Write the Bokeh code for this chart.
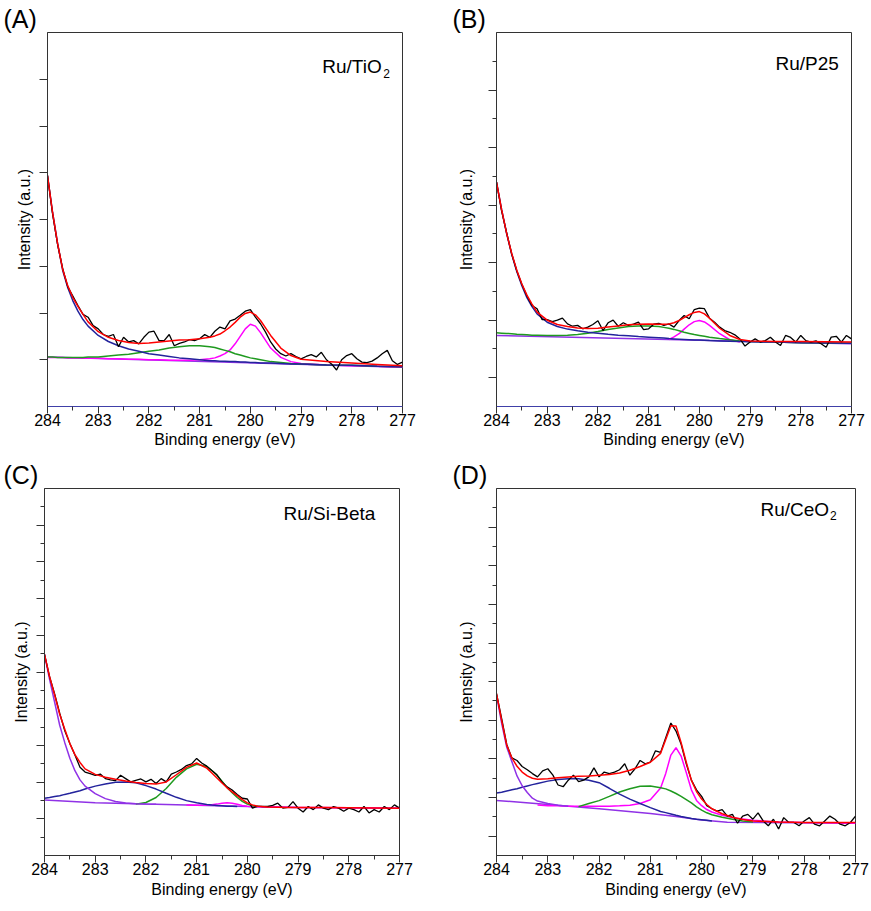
import math
from bokeh.plotting import figure
from bokeh.models import Range1d, FixedTicker, Label, CustomJSTickFormatter
from bokeh.layouts import column, row
from bokeh.embed import file_html
from bokeh.resources import INLINE

nan = float("nan")

# ---------------- energy grids (eV) ----------------
raw_energy = [284.0, 283.9, 283.8, 283.7, 283.6, 283.5, 283.4, 283.3, 283.2, 283.1,
              283.0, 282.9, 282.8, 282.7, 282.6, 282.5, 282.4, 282.3, 282.2, 282.1,
              282.0, 281.9, 281.8, 281.7, 281.6, 281.5, 281.4, 281.3, 281.2, 281.1,
              281.0, 280.9, 280.8, 280.7, 280.6, 280.5, 280.4, 280.3, 280.2, 280.1,
              280.0, 279.9, 279.8, 279.7, 279.6, 279.5, 279.4, 279.3, 279.2, 279.1,
              279.0, 278.9, 278.8, 278.7, 278.6, 278.5, 278.4, 278.3, 278.2, 278.1,
              278.0, 277.9, 277.8, 277.7, 277.6, 277.5, 277.4, 277.3, 277.2, 277.1,
              277.0]
fit_energy = [284.0, 283.9, 283.8, 283.7, 283.6, 283.5, 283.4, 283.3, 283.2, 283.0,
              282.8, 282.6, 282.4, 282.2, 282.0, 281.8, 281.6, 281.4, 281.2, 281.0,
              280.8, 280.7, 280.6, 280.5, 280.4, 280.3, 280.2, 280.1, 280.0, 279.9,
              279.8, 279.6, 279.4, 279.2, 279.0, 278.5, 278.0, 277.5, 277.0]

x_major_ticks = [277, 278, 279, 280, 281, 282, 283, 284]
x_minor_ticks = [277.5, 278.5, 279.5, 280.5, 281.5, 282.5, 283.5]

# ---------------- (A) Ru/TiO2 ----------------
A_raw = [4.94, 4.12, 3.46, 2.95, 2.56, 2.36, 2.16, 1.97, 1.91, 1.73,
         1.66, 1.54, 1.50, 1.54, 1.28, 1.48, 1.38, 1.41, 1.34, 1.48,
         1.59, 1.61, 1.41, 1.41, 1.54, 1.30, 1.35, 1.38, 1.43, 1.41,
         1.45, 1.54, 1.48, 1.61, 1.70, 1.66, 1.83, 1.87, 1.95, 2.04,
         2.07, 1.91, 1.77, 1.59, 1.38, 1.23, 1.13, 1.08, 1.13, 1.07,
         1.02, 1.07, 1.11, 1.06, 1.16, 1.00, 0.91, 0.78, 1.00, 1.09,
         1.13, 1.02, 0.95, 0.94, 0.97, 1.04, 1.13, 1.20, 0.98, 0.90,
         0.95]
A_fit = [4.94, 4.15, 3.48, 2.93, 2.58, 2.33, 2.14, 1.97, 1.81, 1.60,
         1.48, 1.41, 1.37, 1.35, 1.36, 1.38, 1.40, 1.42, 1.43, 1.45,
         1.48, 1.51, 1.55, 1.62, 1.70, 1.80, 1.91, 1.99, 2.02, 1.96,
         1.84, 1.52, 1.25, 1.09, 1.01, 0.96, 0.93, 0.90, 0.87]
A_tail = [4.94, 4.15, 3.48, 2.91, 2.54, 2.26, 2.04, 1.86, 1.72, 1.52,
          1.39, 1.30, 1.23, 1.18, 1.13, 1.10, 1.07, 1.04, 1.02, 1.00,
          0.98, 0.98, 0.97, 0.97, 0.96, 0.96, 0.95, 0.95, 0.94, 0.94,
          0.93, 0.93, 0.92, 0.91, 0.91, 0.89, 0.88, 0.86, 0.85]
A_green = [1.06, 1.06, 1.05, 1.05, 1.05, 1.05, 1.05, 1.05, 1.06, 1.06,
           1.08, 1.10, 1.12, 1.15, 1.18, 1.21, 1.25, 1.28, 1.30, 1.30,
           1.28, 1.26, 1.23, 1.20, 1.17, 1.13, 1.10, 1.07, 1.04, 1.02,
           1.00, 0.96, 0.94, 0.92, 0.91, 0.89, 0.88, 0.86, 0.85]
A_magenta = [1.05, 1.05, 1.05, 1.05, 1.04, 1.04, 1.04, 1.03, 1.03, 1.03,
             1.02, 1.02, 1.01, 1.01, 1.00, 1.00, 0.99, 0.99, 0.99, 1.00,
             1.02, 1.04, 1.08, 1.13, 1.21, 1.34, 1.50, 1.66, 1.76, 1.72,
             1.58, 1.25, 1.05, 0.96, 0.92, 0.89, 0.87, 0.86, 0.84]
A_base_energy = [284.0, 277.0]
A_base = [1.06, 0.84]

# ---------------- (B) Ru/P25 ----------------
B_raw = [7.80, 6.80, 6.04, 5.30, 4.72, 4.25, 3.84, 3.51, 3.40, 3.02,
         3.02, 2.95, 3.00, 3.07, 2.87, 2.79, 2.82, 2.70, 2.76, 2.85,
         2.98, 2.64, 2.91, 3.00, 2.79, 2.91, 2.82, 2.86, 2.93, 2.67,
         2.70, 2.86, 2.89, 2.82, 2.87, 2.76, 2.99, 3.16, 3.05, 3.37,
         3.42, 3.40, 3.07, 2.93, 2.76, 2.64, 2.58, 2.49, 2.35, 2.10,
         2.24, 2.35, 2.24, 2.29, 2.41, 2.24, 2.12, 2.47, 2.40, 2.24,
         2.47, 2.29, 2.24, 2.28, 2.18, 2.06, 2.41, 2.44, 2.24, 2.47,
         2.35]
B_fit = [7.80, 6.85, 6.02, 5.32, 4.74, 4.26, 3.87, 3.56, 3.28, 3.00,
         2.85, 2.78, 2.73, 2.71, 2.72, 2.76, 2.80, 2.84, 2.86, 2.87,
         2.86, 2.86, 2.87, 2.91, 2.99, 3.09, 3.19, 3.27, 3.30, 3.22,
         3.07, 2.72, 2.47, 2.33, 2.28, 2.26, 2.26, 2.25, 2.24]
B_tail = [7.80, 6.85, 6.01, 5.29, 4.69, 4.20, 3.78, 3.47, 3.22, 2.93,
          2.78, 2.69, 2.63, 2.58, 2.55, 2.51, 2.48, 2.46, 2.43, 2.41,
          2.39, 2.38, 2.36, 2.35, 2.34, 2.33, 2.32, 2.31, 2.31, 2.30,
          2.29, 2.28, 2.27, 2.26, 2.25, 2.24, 2.22, 2.21, 2.20]
B_green = [2.56, 2.55, 2.54, 2.53, 2.51, 2.50, 2.49, 2.48, 2.48, 2.47,
           2.47, 2.48, 2.50, 2.55, 2.61, 2.68, 2.73, 2.78, 2.80, 2.80,
           2.78, 2.75, 2.72, 2.68, 2.63, 2.58, 2.54, 2.50, 2.47, 2.44,
           2.41, 2.36, 2.32, 2.28, 2.26, 2.24, 2.22, 2.21, 2.20]
B_magenta = [nan, nan, nan, nan, nan, nan, nan, nan, nan, nan,
             nan, nan, nan, nan, nan, nan, nan, nan, nan, nan,
             nan, nan, 2.33, 2.42, 2.53, 2.69, 2.84, 2.95, 2.99, 2.94,
             2.82, 2.53, 2.32, 2.24, nan, nan, nan, nan, nan]
B_base_energy = [284.0, 277.0]
B_base = [2.47, 2.18]

# ---------------- (C) Ru/Si-Beta ----------------
C_raw = [10.96, 9.75, 8.80, 7.75, 6.80, 6.10, 5.48, 4.81, 4.55, 4.46,
         4.37, 4.44, 4.19, 4.12, 4.08, 4.37, 4.19, 4.01, 4.10, 4.17,
         4.01, 4.15, 3.92, 4.19, 4.01, 4.44, 4.55, 4.69, 4.90, 4.99,
         5.29, 5.04, 4.87, 4.63, 4.40, 4.01, 3.74, 3.57, 3.33, 3.12,
         3.08, 2.58, 2.69, 2.67, 2.67, 2.73, 2.85, 2.58, 2.62, 2.94,
         2.58, 2.37, 2.67, 2.50, 2.76, 2.58, 2.50, 2.67, 2.58, 2.41,
         2.58, 2.50, 2.37, 2.67, 2.32, 2.50, 2.37, 2.67, 2.50, 2.76,
         2.58]
C_fit = [10.96, 9.75, 8.75, 7.70, 6.88, 6.10, 5.50, 5.07, 4.72, 4.42,
         4.26, 4.15, 4.06, 3.98, 3.92, 3.89, 4.01, 4.40, 4.80, 5.04,
         4.76, 4.50, 4.22, 3.95, 3.69, 3.47, 3.26, 3.05, 2.87, 2.76,
         2.68, 2.64, 2.63, 2.62, 2.62, 2.61, 2.60, 2.59, 2.58]
C_tail = [10.96, 9.60, 8.35, 7.10, 6.15, 5.30, 4.62, 4.12, 3.78, 3.37,
          3.10, 2.94, 2.86, 2.82, 2.80, 2.79, nan, nan, nan, nan,
          nan, nan, nan, nan, nan, nan, nan, nan, nan, nan,
          nan, nan, nan, nan, nan, nan, nan, nan, nan]
C_navy = [3.12, 3.16, 3.21, 3.26, 3.33, 3.39, 3.46, 3.53, 3.62, 3.78,
          3.90, 3.99, 4.01, 3.96, 3.81, 3.62, 3.39, 3.17, 2.99, 2.87,
          2.78, 2.75, 2.73, 2.71, 2.69, 2.68, 2.67, nan, nan, nan,
          nan, nan, nan, nan, nan, nan, nan, nan, nan]
C_green = [nan, nan, nan, nan, nan, nan, nan, nan, nan, nan,
           nan, nan, nan, 2.80, 2.89, 3.16, 3.65, 4.26, 4.72, 4.97,
           4.85, 4.63, 4.37, 4.05, 3.71, 3.42, 3.16, 2.95, 2.80, 2.71,
           2.66, nan, nan, nan, nan, nan, nan, nan, nan]
C_magenta = [nan, nan, nan, nan, nan, nan, nan, nan, nan, nan,
             nan, nan, nan, nan, nan, nan, nan, nan, 2.75, 2.74,
             2.75, 2.77, 2.80, 2.85, 2.88, 2.85, 2.79, 2.73, 2.68, 2.66,
             2.66, 2.65, 2.64, 2.63, 2.62, 2.61, 2.60, 2.59, 2.58]
C_base_energy = [284.0, 283.0, 282.0, 281.0, 280.0, 279.0, 277.0]
C_base = [3.03, 2.87, 2.80, 2.74, 2.67, 2.62, 2.58]

# ---------------- (D) Ru/CeO2 ----------------
D_raw = [8.38, 7.10, 5.75, 5.05, 4.92, 4.61, 4.44, 4.24, 4.07, 4.38,
         4.49, 4.16, 3.65, 3.56, 3.90, 4.16, 3.82, 3.90, 4.07, 4.54,
         4.07, 4.32, 4.24, 4.32, 4.44, 4.75, 4.16, 4.49, 4.92, 4.75,
         4.83, 5.42, 5.34, 6.10, 6.86, 6.44, 5.76, 4.75, 3.90, 3.40,
         3.06, 2.58, 2.42, 2.30, 2.38, 2.04, 2.13, 1.67, 2.04, 2.13,
         1.88, 2.21, 1.79, 1.54, 1.88, 1.37, 1.96, 1.71, 1.71, 1.54,
         1.79, 1.96, 1.62, 1.54, 1.79, 2.04, 1.88, 1.62, 1.54, 1.71,
         2.04]
D_fit = [8.38, 7.00, 5.70, 5.05, 4.62, 4.32, 4.12, 4.00, 3.95, 3.97,
         4.02, 4.07, 4.10, 4.12, 4.16, 4.19, 4.27, 4.41, 4.61, 4.83,
         5.29, 6.01, 6.72, 6.70, 5.84, 4.83, 3.90, 3.31, 2.92, 2.64,
         2.42, 2.16, 1.98, 1.86, 1.79, 1.73, 1.71, 1.71, 1.71]
D_tail = [8.30, 6.85, 5.60, 4.86, 4.12, 3.61, 3.26, 2.97, 2.82, 2.69,
          2.60, 2.55, nan, nan, nan, nan, nan, nan, nan, nan,
          nan, nan, nan, nan, nan, nan, nan, nan, nan, nan,
          nan, nan, nan, nan, nan, nan, nan, nan, nan]
D_navy = [3.23, 3.28, 3.34, 3.40, 3.46, 3.53, 3.60, 3.67, 3.73, 3.85,
          3.94, 3.97, 3.97, 3.90, 3.77, 3.48, 3.18, 2.92, 2.69, 2.48,
          2.28, 2.22, 2.15, 2.08, 2.02, 1.97, 1.92, 1.88, 1.85, 1.82,
          1.79, nan, nan, nan, nan, nan, nan, nan, nan]
D_green = [nan, nan, nan, nan, nan, nan, nan, nan, nan, nan,
           nan, nan, 2.53, 2.69, 2.84, 3.06, 3.29, 3.46, 3.58, 3.60,
           3.51, 3.45, 3.34, 3.21, 3.06, 2.89, 2.72, 2.52, 2.35, 2.21,
           2.11, 1.98, 1.88, 1.79, 1.74, nan, nan, nan, nan]
D_magenta = [nan, nan, nan, nan, nan, nan, nan, nan, 2.62, 2.58,
             2.57, 2.55, 2.55, 2.55, 2.55, 2.55, 2.57, 2.60, 2.69, 2.89,
             3.50, 4.25, 5.20, 5.58, 5.15, 4.30, 3.40, 2.85, 2.58, 2.38,
             2.25, 2.08, 1.96, 1.89, 1.82, 1.74, 1.71, 1.69, 1.67]
D_base_energy = [284.0, 283.0, 282.0, 281.0, 280.5, 280.0, 279.5, 277.0]
D_base = [2.85, 2.64, 2.42, 2.18, 2.02, 1.84, 1.72, 1.67]

# ---------------- styling ----------------
RED = "#ff0000"
NAVY = "#23239c"
GREEN = "#1f9a1f"
MAGENTA = "#ff00ff"
VIOLET = "#9032e6"
BLACK = "#000000"
FRAME = "#333333"
FONT = "Liberation Sans"


def make_fig(letter, title_offset, width, height, bl, br, bt, bb, ymax, ymaj, ymin,
             ylabel_standoff, tick_standoff, xlabel_standoff, bottom_color=FRAME):
    p = figure(width=width, height=height,
               x_range=Range1d(284, 277), y_range=Range1d(0, ymax),
               output_backend="svg", toolbar_location=None,
               min_border_left=bl, min_border_right=br,
               min_border_top=bt, min_border_bottom=bb)
    p.grid.visible = False
    p.background_fill_color = "white"
    p.border_fill_color = "white"
    p.outline_line_color = FRAME
    p.outline_line_width = 1

    p.title.text = letter
    p.title.align = "left"
    p.title.offset = title_offset
    p.title.standoff = 0
    p.title.text_font = FONT
    p.title.text_font_size = "25px"
    p.title.text_line_height = 0.9
    p.title.text_font_style = "normal"
    p.title.text_color = BLACK
    p.title.vertical_align = "bottom"

    xa = p.xaxis[0]
    xa.ticker = FixedTicker(ticks=x_major_ticks, minor_ticks=x_minor_ticks)
    xa.major_tick_out = 7
    xa.major_tick_in = 0
    xa.minor_tick_out = 4
    xa.minor_tick_in = 0
    xa.major_label_standoff = tick_standoff
    xa.major_label_text_font = FONT
    xa.major_label_text_font_size = "16px"
    xa.major_label_text_color = BLACK
    xa.axis_line_color = bottom_color
    xa.major_tick_line_color = FRAME
    xa.minor_tick_line_color = FRAME
    xa.axis_label = "Binding energy (eV)"
    xa.axis_label_text_font = FONT
    xa.axis_label_text_font_size = "16px"
    xa.axis_label_text_font_style = "normal"
    xa.axis_label_text_color = BLACK
    xa.axis_label_standoff = xlabel_standoff

    ya = p.yaxis[0]
    ya.ticker = FixedTicker(ticks=ymaj, minor_ticks=ymin)
    ya.formatter = CustomJSTickFormatter(code="return ''")
    ya.major_label_text_font_size = "1px"
    ya.major_label_standoff = 0
    ya.major_tick_out = 8
    ya.major_tick_in = 0
    ya.minor_tick_out = 4
    ya.minor_tick_in = 0
    ya.axis_line_color = FRAME
    ya.major_tick_line_color = FRAME
    ya.minor_tick_line_color = FRAME
    ya.axis_label = "Intensity (a.u.)"
    ya.axis_label_text_font = FONT
    ya.axis_label_text_font_size = "16px"
    ya.axis_label_text_font_style = "normal"
    ya.axis_label_text_color = BLACK
    ya.axis_label_standoff = ylabel_standoff
    return p


def lab(p, text, x, y, size):
    p.add_layout(Label(x=x, y=y, x_units="screen", y_units="screen", text=text,
                       text_font=FONT, text_font_size=f"{size}px",
                       text_align="left", text_baseline="alphabetic",
                       text_color=BLACK))


def draw(p, base_e, base, magenta, green, navy, tail, tail_color, raw, fit):
    p.line(base_e, base, line_color=VIOLET, line_width=1.5)
    p.line(fit_energy, magenta, line_color=MAGENTA, line_width=1.5)
    p.line(fit_energy, green, line_color=GREEN, line_width=1.5)
    if navy is not None:
        p.line(fit_energy, navy, line_color=NAVY, line_width=1.5)
    p.line(fit_energy, tail, line_color=tail_color, line_width=1.5)
    p.line(raw_energy, raw, line_color=BLACK, line_width=1.3)
    p.line(fit_energy, fit, line_color=RED, line_width=1.5)


# row 1: y 0..458 ; row 2: y 458..910 (page has no body margin)
# (A)
pA = make_fig("(A)", -44, 440, 458, 47, 38, 32, 52, 8, [1, 2, 3, 4, 5, 6, 7], [], 7, 0, 2,
              bottom_color="#4040a8")
draw(pA, A_base_energy, A_base, A_magenta, A_green, None, A_tail, NAVY, A_raw, A_fit)
lab(pA, "Ru/TiO", 274.7, 340, 19)
lab(pA, "2", 335.7, 333, 12)

# (B)
pB = make_fig("(B)", -44, 431, 458, 56, 20, 32, 52, 13, [1, 3, 5, 7, 9, 11],
              [2, 4, 6, 8, 10, 12], 14, 0, 2, bottom_color="#4040a8")
draw(pB, B_base_energy, B_base, B_magenta, B_green, None, B_tail, NAVY, B_raw, B_fit)
lab(pB, "Ru/P25", 279, 342.7, 19)

# (C)
pC = make_fig("(C)", -41, 440, 452, 44, 41, 23, 55, 20, [2, 4, 6, 8, 10, 12, 14, 16, 18],
              [1, 3, 5, 7, 9, 11, 13, 15, 17, 19], 7, 0, 3)
draw(pC, C_base_energy, C_base, C_magenta, C_green, C_navy, C_tail, VIOLET, C_raw, C_fit)
lab(pC, "Ru/Si-Beta", 239, 341.7, 19)

# (D)
pD = make_fig("(D)", -44, 431, 452, 56, 16, 24, 54, 19, [1, 3, 5, 7, 9, 11, 13, 15, 17],
              [2, 4, 6, 8, 10, 12, 14, 16, 18], 14, 0, 3)
draw(pD, D_base_energy, D_base, D_magenta, D_green, D_navy, D_tail, VIOLET, D_raw, D_fit)
lab(pD, "Ru/CeO", 264, 346, 19)
lab(pD, "2", 333.6, 340.3, 12)

layout = column(row(pA, pB), row(pC, pD))
open("out.html", "w").write(file_html(layout, INLINE))
